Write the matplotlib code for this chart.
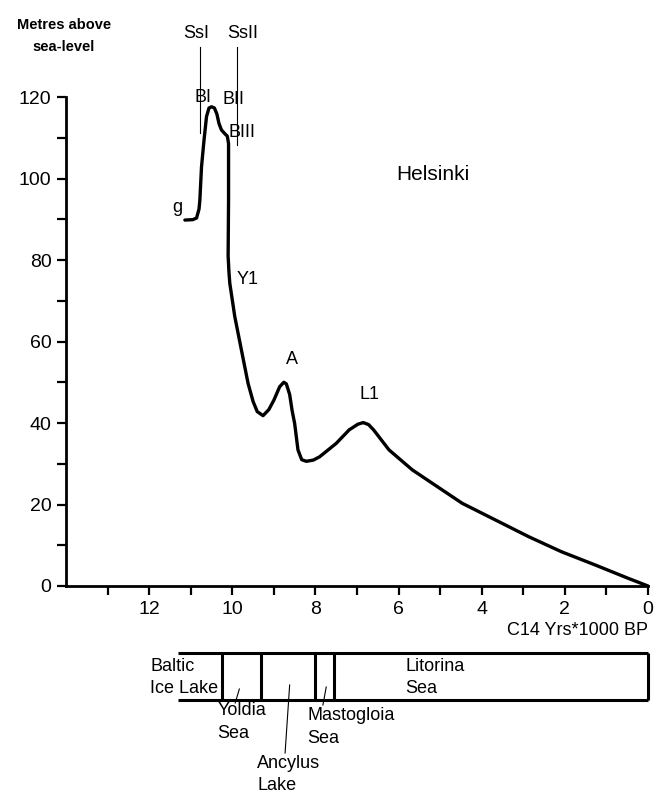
import numpy as np
import matplotlib
matplotlib.use("Agg")
import matplotlib.pyplot as plt
from matplotlib.ticker import FixedLocator

plt.rcParams['font.family'] = ['Liberation Sans', 'DejaVu Sans']

# shore displacement curve, Helsinki (age in 1000 C14 yrs BP, metres a.s.l.)
age = [11.14, 10.95, 10.86, 10.80, 10.78, 10.74, 10.68, 10.62, 10.56, 10.50,
       10.43, 10.37, 10.32, 10.26, 10.18, 10.12, 10.09, 10.09, 10.10, 10.08,
       10.06, 9.94, 9.78, 9.62, 9.50, 9.40, 9.26, 9.12, 9.00, 8.86, 8.76,
       8.70, 8.62, 8.56, 8.50, 8.42, 8.33, 8.22, 8.05, 7.90, 7.50, 7.19,
       6.98, 6.85, 6.72, 6.60, 6.23, 5.67, 5.10, 4.47, 3.67, 2.87, 2.08,
       1.28, 0.48, 0.0]
level = [89.8, 89.9, 90.3, 92.5, 94.7, 102.9, 109.4, 115.2, 117.3, 117.6,
         117.3, 115.8, 113.5, 111.9, 111.0, 110.4, 108.6, 94.7, 81.0, 77.0,
         74.3, 66.1, 57.9, 49.7, 45.3, 42.8, 41.8, 43.3, 45.6, 48.9, 50.0,
         49.6, 47.0, 43.0, 39.9, 33.4, 31.0, 30.6, 30.9, 31.7, 35.0, 38.3,
         39.7, 40.1, 39.6, 38.3, 33.4, 28.5, 24.6, 20.3, 16.2, 12.1, 8.4,
         5.2, 1.9, 0.0]

# Baltic stages: boundaries (1000 yrs BP)
stage_edges = [11.3, 10.25, 9.3, 8.0, 7.55, 0.0]
stage_names = ["Baltic\nIce Lake", "Yoldia\nSea", "Ancylus\nLake",
               "Mastogloia\nSea", "Litorina\nSea"]

x_major = [12, 10, 8, 6, 4, 2, 0]
x_minor = [13, 11, 9, 7, 5, 3, 1]
y_major = [0, 20, 40, 60, 80, 100, 120]
y_minor = [10, 30, 50, 70, 90, 110]

# curve labels (name, age, level)
marks = [("g", 11.33, 92.8), ("BI", 10.70, 120.0), ("BII", 9.98, 119.3),
         ("BIII", 9.76, 111.4), ("Y1", 9.64, 75.1), ("A", 8.57, 55.5),
         ("L1", 6.71, 46.9)]
# shoreline markers: name, line age, line bottom, label age
shorelines = [("SsI", 10.77, 111.2, 10.87), ("SsII", 9.88, 108.2, 9.76)]

W, H = 654, 793
fig = plt.figure(figsize=(W / 100, H / 100), dpi=100)
ax = fig.add_axes([66 / W, (H - 586) / H, (648 - 66) / W, (586 - 97) / H])

ax.plot(age, level, color='black', lw=2.4, solid_joinstyle='round',
        solid_capstyle='round', clip_on=False)

ax.set_xlim(14, 0)
ax.set_ylim(0, 120)
for s in ['top', 'right']:
    ax.spines[s].set_visible(False)
for s in ['left', 'bottom']:
    ax.spines[s].set_linewidth(2.0)
ax.xaxis.set_major_locator(FixedLocator(x_major))
ax.xaxis.set_minor_locator(FixedLocator(x_minor))
ax.yaxis.set_major_locator(FixedLocator(y_major))
ax.yaxis.set_minor_locator(FixedLocator(y_minor))
ax.tick_params(which='both', direction='out', length=6.5, width=1.6,
               labelsize=14, pad=4)
ax.set_xlabel("C14 Yrs*1000 BP", loc='right', fontsize=13, labelpad=3)

for name, x, y in marks:
    ax.text(x, y, name, fontsize=13, ha='center', va='center')
for name, x, y, lx in shorelines:
    ax.plot([x, x], [y, 132.3], color='black', lw=0.8, clip_on=False)
    ax.text(lx, 135.7, name, fontsize=13, ha='center', va='center')
ax.text(5.17, 100.9, "Helsinki", fontsize=15, ha='center', va='center')

fig.text(64 / W, 1 - 36 / H, "Metres above\nsea-level", fontsize=10.5,
         fontweight='bold', ha='center', va='center', linespacing=1.75)

# stage bar below the axis, same time scale
ax2 = fig.add_axes([66 / W, 0, (648 - 66) / W, 160 / H])
ax2.set_xlim(14, 0)
ax2.set_ylim(H, H - 160)
ax2.axis('off')
top, bot = 653, 700
ax2.hlines([top, bot], stage_edges[0], stage_edges[-1], color='black',
           lw=2.2, clip_on=False)
ax2.vlines(stage_edges[1:], top, bot, color='black', lw=2.2, clip_on=False)

label_pos = [(11.97, 677.5), (10.36, 722), (9.40, 774.5), (8.20, 727),
             (5.83, 677.5)]
for name, (x, y) in zip(stage_names, label_pos):
    ax2.text(x, y, name, fontsize=13, ha='left', va='center',
             linespacing=1.45)
leaders = [((9.83, 689), (9.93, 703)), ((8.62, 685), (8.73, 753)),
           ((7.74, 687), (7.82, 705))]
for (x1, y1), (x2, y2) in leaders:
    ax2.plot([x1, x2], [y1, y2], color='black', lw=0.8, clip_on=False)

fig.savefig("out.png", dpi=100)
